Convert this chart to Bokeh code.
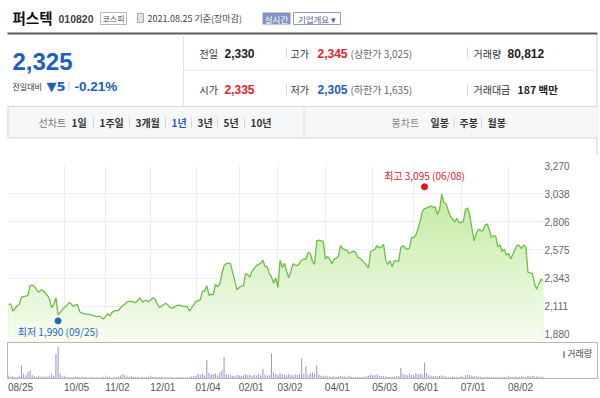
import numpy as np
from bokeh.plotting import figure
from bokeh.models import (Range1d, FixedTicker, NumeralTickFormatter, Span,
                          Legend, LegendItem)
from bokeh.core.properties import value
from bokeh.embed import file_html
from bokeh.resources import INLINE

# ---------------- data ----------------
stock_name = "퍼스텍"
stock_code = "010820"
market = "코스피"
date_str = "2021.08.25 기준(장마감)"
cur_price = "2,325"
change_abs = "▼5"
change_pct = "-0.21%"
row1 = [("전일", "2,330", "", ""), ("고가", "2,345", "(상한가 3,025)", "up"), ("거래량", "80,812", "", "")]
row2 = [("시가", "2,335", "", "up"), ("저가", "2,305", "(하한가 1,635)", "down"), ("거래대금", "187 백만", "", "")]
line_tabs = ["1일", "1주일", "3개월", "1년", "3년", "5년", "10년"]
candle_tabs = ["일봉", "주봉", "월봉"]

tick_idx = [0, 26, 45, 66, 87, 107, 125, 147, 169, 188, 210, 232]
tick_labels = ["08/25", "10/05", "11/02", "12/01", "01/04", "02/01",
               "03/02", "04/01", "05/03", "06/01", "07/01", "08/02"]
price_ticks = [1880, 2111, 2343, 2575, 2806, 3038, 3270]

close = [
    2125, 2130, 2070, 2090, 2115, 2125, 2185, 2190, 2195, 2200,
    2280, 2285, 2275, 2245, 2225, 2245, 2240, 2220, 2200, 2170,
    2100, 2125, 2180, 2040, 2060, 2085, 2100, 2115, 2140, 2130,
    2110, 2120, 2125, 2065, 2055, 2050, 2045, 2045, 2040, 2035,
    2030, 2025, 2030, 2020, 2005, 2025, 2050, 2030, 2060, 2070,
    2075, 2075, 2100, 2115, 2130, 2145, 2150, 2150, 2145, 2140,
    2160, 2180, 2145, 2155, 2160, 2145, 2165, 2180, 2170, 2130,
    2100, 2110, 2125, 2135, 2120, 2100, 2095, 2105, 2115, 2120,
    2115, 2110, 2110, 2105, 2070, 2100, 2125, 2150, 2155, 2165,
    2235, 2235, 2280, 2200, 2210, 2205, 2290, 2270, 2290, 2380,
    2445, 2460, 2465, 2460, 2390, 2320, 2245, 2265, 2275, 2280,
    2380, 2370, 2350, 2400, 2420, 2445, 2455, 2465, 2490, 2440,
    2435, 2380, 2350, 2300, 2345, 2265, 2490, 2430, 2465, 2400,
    2345, 2400, 2460, 2450, 2445, 2465, 2490, 2500, 2500, 2555,
    2545, 2480, 2455, 2650, 2655, 2650, 2645, 2500, 2520, 2500,
    2460, 2500, 2505, 2520, 2610, 2585, 2575, 2570, 2545, 2555,
    2565, 2555, 2515, 2505, 2490, 2470, 2450, 2425, 2560, 2570,
    2580, 2610, 2590, 2600, 2620, 2490, 2455, 2485, 2435, 2485,
    2485, 2480, 2595, 2610, 2590, 2580, 2590, 2675, 2675, 2700,
    2750, 2815, 2890, 2915, 2920, 2930, 2935, 2930, 2925, 2865,
    2910, 3035, 2965, 2955, 2900, 2850, 2830, 2805, 2835, 2800,
    2800, 2810, 2910, 2920, 2860, 2750, 2650, 2710, 2745, 2735,
    2730, 2775, 2790, 2745, 2680, 2690, 2690, 2600, 2615, 2560,
    2580, 2530, 2545, 2500, 2540, 2580, 2615, 2610, 2585, 2615,
    2600, 2390, 2385, 2380, 2300, 2250, 2295, 2330, 2325,
]

volume_k = [
    110, 95, 130, 90, 85, 120, 720, 260, 180, 340,
    440, 200, 120, 90, 150, 110, 95, 130, 100, 150,
    250, 140, 1370, 1770, 260, 120, 110, 90, 100, 85,
    70, 95, 80, 75, 110, 70, 80, 60, 65, 90,
    70, 75, 60, 85, 100, 90, 70, 80, 60, 75,
    90, 110, 160, 250, 180, 120, 100, 140, 90, 80,
    110, 90, 80, 70, 85, 95, 110, 90, 80, 75,
    70, 80, 65, 75, 90, 70, 85, 60, 70, 75,
    80, 70, 65, 80, 100, 120, 140, 130, 250, 200,
    260, 180, 1010, 300, 220, 260, 280, 180, 320, 440,
    1200, 250, 220, 180, 150, 120, 200, 160, 140, 170,
    250, 180, 200, 150, 220, 170, 250, 180, 530, 220,
    160, 200, 1390, 330, 250, 200, 300, 240, 200, 180,
    250, 200, 180, 220, 190, 240, 1110, 260, 700, 200,
    300, 320, 260, 720, 220, 160, 120, 140, 110, 130,
    100, 120, 90, 110, 150, 120, 130, 100, 170, 110,
    90, 80, 100, 90, 80, 95, 120, 150, 220, 180,
    200, 240, 150, 130, 120, 110, 90, 100, 95, 110,
    130, 140, 590, 250, 220, 180, 260, 200, 170, 300,
    220, 260, 200, 875, 300, 180, 150, 130, 140, 120,
    150, 180, 120, 110, 100, 90, 110, 95, 100, 85,
    90, 100, 180, 220, 200, 160, 130, 120, 110, 100,
    90, 80, 100, 95, 85, 80, 90, 100, 85, 80,
    90, 75, 70, 80, 90, 100, 85, 95, 110, 100,
    90, 150, 130, 140, 120, 110, 100, 95, 81,
]

low_idx, low_price, low_label = 23, 1990, "최저 1,990 (09/25)"
high_idx, high_price, high_label = 193, 3095, "최고 3,095 (06/08)"

# ---------------- style ----------------
KR = "Noto Sans CJK KR"
NUM = "Liberation Sans"
BLUE = "#1b5ec6"
RED = "#e3232b"
BORDER = "#cfcfcf"
W = 600


def put(fig, x, y, s, size, color, font=KR, bold=False, align="left"):
    fig.text(x=[x], y=[y], text=[s], text_font=value(font),
             text_font_size=f"{size}px", text_color=color,
             text_font_style="bold" if bold else "normal",
             text_align=align, text_baseline="middle")


def seg(fig, x0, y0, x1, y1, color, width=1):
    fig.segment(x0=[x0], y0=[y0], x1=[x1], y1=[y1], line_color=color, line_width=width)


def box(fig, l, r, t, b, fill, line=None):
    fig.quad(left=[l], right=[r], top=[t], bottom=[b], fill_color=fill,
             line_color=line, line_width=1)


# ---------------- header ----------------
hdr = figure(width=W, height=155, x_range=Range1d(0, 600), y_range=Range1d(155, 0),
             output_backend="svg", toolbar_location=None, min_border=0,
             x_axis_location=None, y_axis_location=None, outline_line_color=None)
hdr.xgrid.visible = False
hdr.ygrid.visible = False

put(hdr, 12, 17, stock_name, 14.5, "#111", KR, True)
put(hdr, 58, 18, stock_code, 10.5, "#444", NUM, True)
box(hdr, 100, 126, 12, 24, "white", "#b8b8b8")
put(hdr, 113, 18, market, 8, "#555", KR, align="center")
box(hdr, 137, 143, 13, 22, "#e4e4e4", "#a8a8a8")
put(hdr, 147, 18, date_str, 9, "#444", KR)
box(hdr, 262, 290, 12, 24, "#8394c4", None)
put(hdr, 276, 18, "실시간", 8.5, "white", KR, align="center")
box(hdr, 293, 340, 12, 24, "white", "#8d9ec8")
put(hdr, 316.5, 18, "기업개요 ▾", 8.5, "#4e6299", KR, align="center")

seg(hdr, 7, 33, 597, 33, "#5a5a5a", 2)
seg(hdr, 596.5, 34, 596.5, 155, BORDER)
seg(hdr, 183, 34, 183, 106, "#e2e2e2")
seg(hdr, 183, 70, 596, 70, "#ebebeb")

put(hdr, 12, 61, cur_price, 24, BLUE, NUM, True)
put(hdr, 12, 86, "전일대비", 8, "#333", KR)
put(hdr, 46, 86, change_abs, 13, BLUE, "DejaVu Sans", True)
seg(hdr, 68.5, 81, 68.5, 91, "#cfcfcf")
put(hdr, 74, 86, change_pct, 13.5, BLUE, NUM, True)

col_x = [(199, 224), (290, 317), (473, 507)]
for rowy, row in ((52.5, row1), (89, row2)):
    for (lab, val, extra, kind), (lx, vx) in zip(row, col_x):
        put(hdr, lx, rowy, lab, 10, "#333", KR)
        color = RED if kind == "up" else (BLUE if kind == "down" else "#222")
        if lab == "거래대금":
            put(hdr, 517, rowy, val, 10.5, color, KR, True)
        else:
            put(hdr, vx, rowy, val, 12, color, NUM, True)
        if extra:
            put(hdr, 350, rowy, extra, 10, "#666", KR)
    for sx in (286, 467):
        seg(hdr, sx, rowy - 5.5, sx, rowy + 5.5, "#d8d8d8")

box(hdr, 7, 597, 106, 137.5, "#f6f7f9", None)
seg(hdr, 7, 106, 597, 106, "#d8d8d8")
seg(hdr, 7, 137.5, 597, 137.5, "#d8d8d8")
seg(hdr, 7.5, 106, 7.5, 137.5, "#d8d8d8")
seg(hdr, 303.5, 106, 303.5, 137.5, "#dedede")

put(hdr, 38, 122, "선차트", 10, "#777", KR)
for lab, x in zip(line_tabs, [71, 99, 135, 171, 197, 223, 250]):
    put(hdr, x, 122, lab, 10, "#2a5cc0" if lab == "1년" else "#333", KR, True)
for sx in (93, 129, 165, 191, 217, 244):
    seg(hdr, sx, 117, sx, 127, "#d3d3d3")
put(hdr, 391, 122, "봉차트", 10, "#888", KR)
for lab, x in zip(candle_tabs, [430, 459, 487]):
    put(hdr, x, 122, lab, 10, "#333", KR, True)
for sx in (453.5, 481):
    seg(hdr, sx, 117, sx, 127, "#d3d3d3")

# ---------------- price chart ----------------
n = len(close)
idx = np.arange(n)
c = np.array(close, dtype=float)
y_lo, y_hi = 1812, 3270
x_end = 248.2
px_per_day = 535 / x_end

pf = figure(width=W, height=187, x_range=Range1d(0, x_end), y_range=Range1d(y_lo, y_hi),
            y_axis_location="right", x_axis_location=None,
            min_border_left=8, min_border_right=57, min_border_top=10, min_border_bottom=0,
            output_backend="svg", toolbar_location=None, outline_line_color=None)
pf.xgrid.ticker = FixedTicker(ticks=tick_idx)
pf.xgrid.grid_line_color = "#ededed"
pf.ygrid.grid_line_color = "#ededed"
ya = pf.yaxis[0]
ya.ticker = FixedTicker(ticks=price_ticks)
ya.formatter = NumeralTickFormatter(format="0,0")
ya.axis_line_color = None
ya.major_tick_line_color = None
ya.minor_tick_line_color = None
ya.major_tick_out = 0
ya.major_tick_in = 0
ya.major_label_standoff = 1
ya.major_label_text_font = NUM
ya.major_label_text_font_size = "10px"
ya.major_label_text_color = "#666"

# vertical gradient fill under the line (stacked bands)
top_rgb = np.array([0xb9, 0xe6, 0x94])
bot_rgb = np.array([0xf6, 0xfd, 0xf0])
levels = np.linspace(y_hi, y_lo, 26)[:-1]
for k, lev in enumerate(levels):
    t = k / (len(levels) - 1)
    rgb = (top_rgb * (1 - t) + bot_rgb * t).round().astype(int)
    colr = "#%02x%02x%02x" % tuple(rgb)
    pf.varea(x=idx, y1=y_lo, y2=np.minimum(c, lev), fill_color=colr)

pf.line(idx, c, line_color="#6cc046", line_width=1.3)

pf.scatter([low_idx], [low_price], size=6, color="#2563c9")
pf.text(x=[low_idx], y=[low_price], text=[low_label], text_font=value(KR),
        text_font_size="10px", text_color="#2e66c4", text_align="center",
        text_baseline="middle", y_offset=11)
pf.scatter([high_idx], [high_price], size=6, color="#e8141c")
pf.text(x=[high_idx], y=[high_price], text=[high_label], text_font=value(KR),
        text_font_size="10px", text_color="#e3232b", text_align="center",
        text_baseline="middle", y_offset=-11)
# right border of the page box
pf.add_layout(Span(location=(596.5 - 8) / px_per_day, dimension="height",
                   line_color=BORDER, line_width=1))

# ---------------- volume chart ----------------
vx0 = -1 / px_per_day
vx1 = (597 - 8) / px_per_day
vol_top = 2000
vf = figure(width=W, height=54, x_range=Range1d(vx0, vx1), y_range=Range1d(0, vol_top),
            y_axis_location=None, min_border_left=7, min_border_right=3,
            min_border_top=0, min_border_bottom=18,
            output_backend="svg", toolbar_location=None,
            outline_line_color="#b8b8b8")
vf.xgrid.visible = False
vf.ygrid.visible = False
vb = vf.vbar(x=idx, top=volume_k, width=0.5, fill_color="#a397d0", line_color=None)
# small tick marks at the date positions (inside the frame)
vf.segment(x0=tick_idx, x1=tick_idx, y0=[0] * len(tick_idx),
           y1=[vol_top * 3 / 36] * len(tick_idx), line_color="#b4b4b4")

# date labels start at their tick (left-aligned), so the label anchors are
# shifted by half a label width (12 px)
label_shift = 12 / px_per_day
label_pos = [i + label_shift for i in tick_idx]
xa = vf.xaxis[0]
xa.ticker = FixedTicker(ticks=label_pos)
xa.major_label_overrides = {p: s for p, s in zip(label_pos, tick_labels)}
xa.axis_line_color = "#b4b4b4"
xa.major_tick_line_color = None
xa.major_tick_in = 0
xa.major_tick_out = 2
xa.minor_tick_line_color = None
xa.major_label_standoff = 1
xa.major_label_text_font = NUM
xa.major_label_text_font_size = "10px"
xa.major_label_text_color = "#555"

leg = Legend(items=[LegendItem(label="거래량", renderers=[vb])], location="top_right",
             background_fill_alpha=0, border_line_color=None, padding=0, margin=5,
             spacing=0, glyph_width=3, glyph_height=8, label_height=9,
             label_standoff=2, label_text_font=KR, label_text_font_size="9px",
             label_text_color="#444")
vf.add_layout(leg)

# separate roots so that Bokeh does not align the three frames
open("out.html", "w").write(file_html([hdr, pf, vf], INLINE))
